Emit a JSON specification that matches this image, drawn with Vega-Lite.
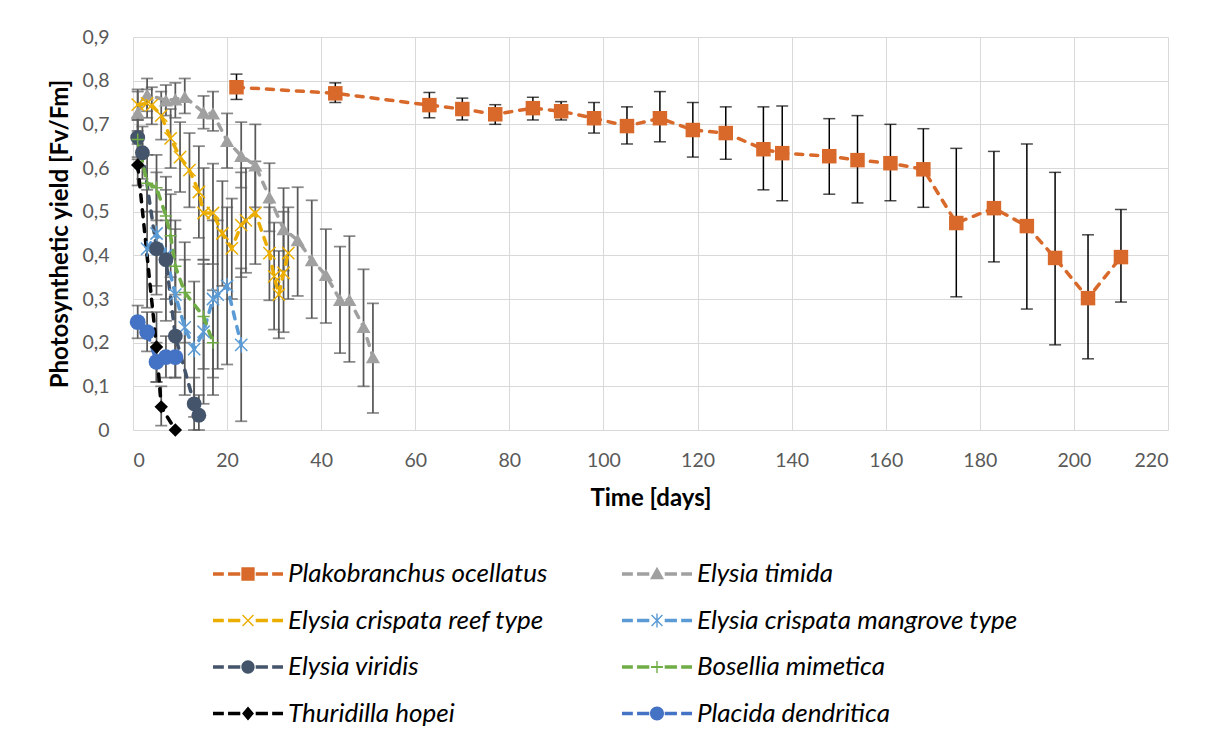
{
  "$schema": "https://vega.github.io/schema/vega-lite/v6.json",
  "width": 1035,
  "height": 393,
  "autosize": {"type": "none"},
  "padding": {"left": 133, "top": 37, "right": 44, "bottom": 319},
  "background": "white",
  "config": {
    "view": {"stroke": null},
    "axis": {
      "labelFont": "Lato", "titleFont": "Lato", "labelFontSize": 19.5, "labelColor": "#595959",
      "titleFontSize": 24, "titleFontWeight": "bold", "titleColor": "#000000",
      "gridColor": "#d9d9d9", "gridWidth": 1, "ticks": false, "domain": false
    }
  },
  "data": {
    "values": [
      {"species": "Plakobranchus ocellatus", "day": 22, "y": 0.785, "lo": 0.757, "hi": 0.815},
      {"species": "Plakobranchus ocellatus", "day": 43, "y": 0.771, "lo": 0.75, "hi": 0.795},
      {"species": "Plakobranchus ocellatus", "day": 63, "y": 0.744, "lo": 0.715, "hi": 0.773},
      {"species": "Plakobranchus ocellatus", "day": 70, "y": 0.735, "lo": 0.71, "hi": 0.76},
      {"species": "Plakobranchus ocellatus", "day": 77, "y": 0.723, "lo": 0.70, "hi": 0.745},
      {"species": "Plakobranchus ocellatus", "day": 85, "y": 0.737, "lo": 0.71, "hi": 0.762},
      {"species": "Plakobranchus ocellatus", "day": 91, "y": 0.73, "lo": 0.71, "hi": 0.752},
      {"species": "Plakobranchus ocellatus", "day": 98, "y": 0.714, "lo": 0.68, "hi": 0.75},
      {"species": "Plakobranchus ocellatus", "day": 105, "y": 0.696, "lo": 0.655, "hi": 0.74},
      {"species": "Plakobranchus ocellatus", "day": 112, "y": 0.714, "lo": 0.66, "hi": 0.775},
      {"species": "Plakobranchus ocellatus", "day": 119, "y": 0.687, "lo": 0.625, "hi": 0.75},
      {"species": "Plakobranchus ocellatus", "day": 126, "y": 0.68, "lo": 0.62, "hi": 0.74},
      {"species": "Plakobranchus ocellatus", "day": 134, "y": 0.643, "lo": 0.55, "hi": 0.74},
      {"species": "Plakobranchus ocellatus", "day": 138, "y": 0.634, "lo": 0.525, "hi": 0.742},
      {"species": "Plakobranchus ocellatus", "day": 148, "y": 0.627, "lo": 0.54, "hi": 0.713},
      {"species": "Plakobranchus ocellatus", "day": 154, "y": 0.618, "lo": 0.52, "hi": 0.72},
      {"species": "Plakobranchus ocellatus", "day": 161, "y": 0.611, "lo": 0.525, "hi": 0.70},
      {"species": "Plakobranchus ocellatus", "day": 168, "y": 0.597, "lo": 0.51, "hi": 0.69},
      {"species": "Plakobranchus ocellatus", "day": 175, "y": 0.474, "lo": 0.305, "hi": 0.645},
      {"species": "Plakobranchus ocellatus", "day": 183, "y": 0.508, "lo": 0.385, "hi": 0.638},
      {"species": "Plakobranchus ocellatus", "day": 190, "y": 0.467, "lo": 0.277, "hi": 0.655},
      {"species": "Plakobranchus ocellatus", "day": 196, "y": 0.394, "lo": 0.195, "hi": 0.59},
      {"species": "Plakobranchus ocellatus", "day": 203, "y": 0.302, "lo": 0.163, "hi": 0.447},
      {"species": "Plakobranchus ocellatus", "day": 210, "y": 0.396, "lo": 0.293, "hi": 0.505},

      {"species": "Elysia timida", "day": 1, "y": 0.727, "lo": 0.685, "hi": 0.775},
      {"species": "Elysia timida", "day": 3, "y": 0.768, "lo": 0.73, "hi": 0.805},
      {"species": "Elysia timida", "day": 7, "y": 0.755, "lo": 0.72, "hi": 0.79},
      {"species": "Elysia timida", "day": 9, "y": 0.757, "lo": 0.715, "hi": 0.795},
      {"species": "Elysia timida", "day": 11, "y": 0.763, "lo": 0.725, "hi": 0.805},
      {"species": "Elysia timida", "day": 15, "y": 0.727, "lo": 0.69, "hi": 0.765},
      {"species": "Elysia timida", "day": 17, "y": 0.725, "lo": 0.685, "hi": 0.775},
      {"species": "Elysia timida", "day": 20, "y": 0.662, "lo": 0.60, "hi": 0.725},
      {"species": "Elysia timida", "day": 23, "y": 0.628, "lo": 0.555, "hi": 0.705},
      {"species": "Elysia timida", "day": 26, "y": 0.606, "lo": 0.51, "hi": 0.70},
      {"species": "Elysia timida", "day": 29, "y": 0.533, "lo": 0.455, "hi": 0.611},
      {"species": "Elysia timida", "day": 32, "y": 0.46, "lo": 0.365, "hi": 0.554},
      {"species": "Elysia timida", "day": 35, "y": 0.435, "lo": 0.307, "hi": 0.556},
      {"species": "Elysia timida", "day": 38, "y": 0.389, "lo": 0.256, "hi": 0.526},
      {"species": "Elysia timida", "day": 41, "y": 0.355, "lo": 0.245, "hi": 0.46},
      {"species": "Elysia timida", "day": 44, "y": 0.298, "lo": 0.176, "hi": 0.42},
      {"species": "Elysia timida", "day": 46, "y": 0.298, "lo": 0.156, "hi": 0.444},
      {"species": "Elysia timida", "day": 49, "y": 0.236, "lo": 0.10, "hi": 0.368},
      {"species": "Elysia timida", "day": 51, "y": 0.167, "lo": 0.039, "hi": 0.29},

      {"species": "Elysia crispata reef type", "day": 1, "y": 0.745, "lo": 0.71, "hi": 0.78},
      {"species": "Elysia crispata reef type", "day": 3, "y": 0.748, "lo": 0.715, "hi": 0.78},
      {"species": "Elysia crispata reef type", "day": 4, "y": 0.744, "lo": 0.70, "hi": 0.785},
      {"species": "Elysia crispata reef type", "day": 6, "y": 0.72, "lo": 0.665, "hi": 0.775},
      {"species": "Elysia crispata reef type", "day": 8, "y": 0.668, "lo": 0.60, "hi": 0.735},
      {"species": "Elysia crispata reef type", "day": 10, "y": 0.625, "lo": 0.545, "hi": 0.705},
      {"species": "Elysia crispata reef type", "day": 12, "y": 0.595, "lo": 0.51, "hi": 0.68},
      {"species": "Elysia crispata reef type", "day": 14, "y": 0.545, "lo": 0.44, "hi": 0.65},
      {"species": "Elysia crispata reef type", "day": 15, "y": 0.497, "lo": 0.39, "hi": 0.60},
      {"species": "Elysia crispata reef type", "day": 17, "y": 0.497, "lo": 0.38, "hi": 0.61},
      {"species": "Elysia crispata reef type", "day": 19, "y": 0.45, "lo": 0.33, "hi": 0.57},
      {"species": "Elysia crispata reef type", "day": 21, "y": 0.416, "lo": 0.30, "hi": 0.53},
      {"species": "Elysia crispata reef type", "day": 23, "y": 0.469, "lo": 0.35, "hi": 0.59},
      {"species": "Elysia crispata reef type", "day": 24, "y": 0.48, "lo": 0.36, "hi": 0.60},
      {"species": "Elysia crispata reef type", "day": 26, "y": 0.497, "lo": 0.38, "hi": 0.615},
      {"species": "Elysia crispata reef type", "day": 29, "y": 0.405, "lo": 0.297, "hi": 0.51},
      {"species": "Elysia crispata reef type", "day": 30, "y": 0.352, "lo": 0.23, "hi": 0.475},
      {"species": "Elysia crispata reef type", "day": 31, "y": 0.31, "lo": 0.21, "hi": 0.41},
      {"species": "Elysia crispata reef type", "day": 32, "y": 0.36, "lo": 0.224, "hi": 0.50},
      {"species": "Elysia crispata reef type", "day": 33, "y": 0.405, "lo": 0.30, "hi": 0.51},

      {"species": "Elysia crispata mangrove type", "day": 3, "y": 0.415, "lo": 0.28, "hi": 0.55},
      {"species": "Elysia crispata mangrove type", "day": 5, "y": 0.45, "lo": 0.31, "hi": 0.59},
      {"species": "Elysia crispata mangrove type", "day": 7, "y": 0.40, "lo": 0.25, "hi": 0.55},
      {"species": "Elysia crispata mangrove type", "day": 9, "y": 0.31, "lo": 0.16, "hi": 0.46},
      {"species": "Elysia crispata mangrove type", "day": 11, "y": 0.235, "lo": 0.08, "hi": 0.39},
      {"species": "Elysia crispata mangrove type", "day": 13, "y": 0.185, "lo": 0.03, "hi": 0.34},
      {"species": "Elysia crispata mangrove type", "day": 15, "y": 0.225, "lo": 0.06, "hi": 0.39},
      {"species": "Elysia crispata mangrove type", "day": 17, "y": 0.30, "lo": 0.12, "hi": 0.48},
      {"species": "Elysia crispata mangrove type", "day": 18, "y": 0.31, "lo": 0.14, "hi": 0.48},
      {"species": "Elysia crispata mangrove type", "day": 20, "y": 0.33, "lo": 0.15, "hi": 0.51},
      {"species": "Elysia crispata mangrove type", "day": 23, "y": 0.195, "lo": 0.02, "hi": 0.37},

      {"species": "Elysia viridis", "day": 1, "y": 0.67, "lo": 0.625, "hi": 0.715},
      {"species": "Elysia viridis", "day": 2, "y": 0.635, "lo": 0.575, "hi": 0.695},
      {"species": "Elysia viridis", "day": 5, "y": 0.415, "lo": 0.33, "hi": 0.50},
      {"species": "Elysia viridis", "day": 7, "y": 0.39, "lo": 0.30, "hi": 0.48},
      {"species": "Elysia viridis", "day": 9, "y": 0.215, "lo": 0.12, "hi": 0.31},
      {"species": "Elysia viridis", "day": 13, "y": 0.06, "lo": 0.0, "hi": 0.12},
      {"species": "Elysia viridis", "day": 14, "y": 0.034, "lo": 0.0, "hi": 0.08},

      {"species": "Bosellia mimetica", "day": 1, "y": 0.665, "lo": 0.62, "hi": 0.71},
      {"species": "Bosellia mimetica", "day": 3, "y": 0.565, "lo": 0.50, "hi": 0.63},
      {"species": "Bosellia mimetica", "day": 5, "y": 0.555, "lo": 0.48, "hi": 0.63},
      {"species": "Bosellia mimetica", "day": 7, "y": 0.49, "lo": 0.40, "hi": 0.58},
      {"species": "Bosellia mimetica", "day": 8, "y": 0.445, "lo": 0.35, "hi": 0.54},
      {"species": "Bosellia mimetica", "day": 9, "y": 0.375, "lo": 0.27, "hi": 0.48},
      {"species": "Bosellia mimetica", "day": 11, "y": 0.315, "lo": 0.20, "hi": 0.43},
      {"species": "Bosellia mimetica", "day": 15, "y": 0.26, "lo": 0.14, "hi": 0.38},
      {"species": "Bosellia mimetica", "day": 17, "y": 0.20, "lo": 0.08, "hi": 0.32},

      {"species": "Thuridilla hopei", "day": 1, "y": 0.607, "lo": 0.56, "hi": 0.655},
      {"species": "Thuridilla hopei", "day": 5, "y": 0.19, "lo": 0.11, "hi": 0.27},
      {"species": "Thuridilla hopei", "day": 6, "y": 0.053, "lo": 0.01, "hi": 0.10},
      {"species": "Thuridilla hopei", "day": 9, "y": 0.0, "lo": null, "hi": null},

      {"species": "Placida dendritica", "day": 1, "y": 0.247, "lo": 0.21, "hi": 0.285},
      {"species": "Placida dendritica", "day": 3, "y": 0.224, "lo": 0.18, "hi": 0.27},
      {"species": "Placida dendritica", "day": 5, "y": 0.156, "lo": 0.11, "hi": 0.20},
      {"species": "Placida dendritica", "day": 7, "y": 0.167, "lo": 0.12, "hi": 0.215},
      {"species": "Placida dendritica", "day": 9, "y": 0.167, "lo": 0.12, "hi": 0.215}
    ]
  },
  "layer": [
    {
      "transform": [{"filter": "datum.lo != null && datum.species !== 'Plakobranchus ocellatus'"}],
      "mark": {"type": "errorbar", "color": "#595959", "thickness": 1.75, "ticks": {"size": 12}},
      "encoding": {
        "x": {"field": "day", "type": "quantitative", "scale": {"domain": [0, 220], "nice": false}, "title": "Time [days]"},
        "y": {"field": "lo", "type": "quantitative", "scale": {"domain": [0, 0.9], "nice": false}, "title": "Photosynthetic yield [Fv/Fm]"},
        "y2": {"field": "hi"}
      }
    },
    {
      "mark": {"type": "line", "strokeDash": [7, 8], "strokeWidth": 3.5, "strokeCap": "round"},
      "encoding": {
        "x": {"field": "day", "type": "quantitative", "scale": {"domain": [0, 220], "nice": false}, "title": "Time [days]",
          "axis": {"values": [0, 20, 40, 60, 80, 100, 120, 140, 160, 180, 200, 220], "labelPadding": 21, "titlePadding": 17}},
        "y": {"field": "y", "type": "quantitative", "scale": {"domain": [0, 0.9], "nice": false}, "title": "Photosynthetic yield [Fv/Fm]",
          "axis": {"values": [0, 0.1, 0.2, 0.3, 0.4, 0.5, 0.6, 0.7, 0.8, 0.9], "labelPadding": 24, "titlePadding": 9,
            "labelExpr": "datum.value == 0 ? '0' : replace(format(datum.value, '.1f'), '.', ',')"}},
        "color": {"field": "species", "type": "nominal", "legend": null,
          "scale": {
            "domain": ["Plakobranchus ocellatus", "Elysia timida", "Elysia crispata reef type", "Elysia crispata mangrove type", "Elysia viridis", "Bosellia mimetica", "Thuridilla hopei", "Placida dendritica", "(none)"],
            "range": ["#D8692A", "#A0A0A0", "#EBAE00", "#5B9BD5", "#44546A", "#70AD47", "#000000", "#4472C4", "#888888"]
          }}
      }
    },
    {
      "transform": [{"filter": "datum.lo != null && datum.species === 'Plakobranchus ocellatus'"}],
      "mark": {"type": "errorbar", "color": "#000000", "thickness": 1.5, "ticks": {"size": 12}},
      "encoding": {
        "x": {"field": "day", "type": "quantitative", "scale": {"domain": [0, 220], "nice": false}, "title": "Time [days]"},
        "y": {"field": "lo", "type": "quantitative", "scale": {"domain": [0, 0.9], "nice": false}, "title": "Photosynthetic yield [Fv/Fm]"},
        "y2": {"field": "hi"}
      }
    },
    {
      "transform": [{"filter": "datum.species === 'Plakobranchus ocellatus'"}],
      "mark": {"type": "point", "shape": "square", "filled": true, "size": 210, "opacity": 1},
      "encoding": {
        "x": {"field": "day", "type": "quantitative", "title": "Time [days]"},
        "y": {"field": "y", "type": "quantitative", "title": "Photosynthetic yield [Fv/Fm]"},
        "color": {"field": "species", "type": "nominal", "legend": null}
      }
    },
    {
      "transform": [{"filter": "datum.species === 'Elysia timida'"}],
      "mark": {"type": "point", "shape": "triangle-up", "filled": true, "size": 200, "opacity": 1},
      "encoding": {
        "x": {"field": "day", "type": "quantitative", "title": "Time [days]"},
        "y": {"field": "y", "type": "quantitative", "title": "Photosynthetic yield [Fv/Fm]"},
        "color": {"field": "species", "type": "nominal", "legend": null}
      }
    },
    {
      "transform": [{"filter": "datum.species === 'Elysia crispata reef type'"}],
      "mark": {"type": "point", "shape": "M-1,-1L1,1M-1,1L1,-1", "filled": false, "size": 150, "strokeWidth": 1.5, "opacity": 1},
      "encoding": {
        "x": {"field": "day", "type": "quantitative", "title": "Time [days]"},
        "y": {"field": "y", "type": "quantitative", "title": "Photosynthetic yield [Fv/Fm]"},
        "color": {"field": "species", "type": "nominal", "legend": null}
      }
    },
    {
      "transform": [{"filter": "datum.species === 'Elysia crispata mangrove type'"}],
      "mark": {"type": "point", "shape": "M-1,-1L1,1M-1,1L1,-1M0,-1.3L0,1.3", "filled": false, "size": 150, "strokeWidth": 1.5, "opacity": 1},
      "encoding": {
        "x": {"field": "day", "type": "quantitative", "title": "Time [days]"},
        "y": {"field": "y", "type": "quantitative", "title": "Photosynthetic yield [Fv/Fm]"},
        "color": {"field": "species", "type": "nominal", "legend": null}
      }
    },
    {
      "transform": [{"filter": "datum.species === 'Elysia viridis'"}],
      "mark": {"type": "point", "shape": "circle", "filled": true, "size": 220, "opacity": 1},
      "encoding": {
        "x": {"field": "day", "type": "quantitative", "title": "Time [days]"},
        "y": {"field": "y", "type": "quantitative", "title": "Photosynthetic yield [Fv/Fm]"},
        "color": {"field": "species", "type": "nominal", "legend": null}
      }
    },
    {
      "transform": [{"filter": "datum.species === 'Bosellia mimetica'"}],
      "mark": {"type": "point", "shape": "M-1,0L1,0M0,-1L0,1", "filled": false, "size": 150, "strokeWidth": 1.5, "opacity": 1},
      "encoding": {
        "x": {"field": "day", "type": "quantitative", "title": "Time [days]"},
        "y": {"field": "y", "type": "quantitative", "title": "Photosynthetic yield [Fv/Fm]"},
        "color": {"field": "species", "type": "nominal", "legend": null}
      }
    },
    {
      "transform": [{"filter": "datum.species === 'Thuridilla hopei'"}],
      "mark": {"type": "point", "shape": "diamond", "filled": true, "size": 180, "opacity": 1},
      "encoding": {
        "x": {"field": "day", "type": "quantitative", "title": "Time [days]"},
        "y": {"field": "y", "type": "quantitative", "title": "Photosynthetic yield [Fv/Fm]"},
        "color": {"field": "species", "type": "nominal", "legend": null}
      }
    },
    {
      "transform": [{"filter": "datum.species === 'Placida dendritica'"}],
      "mark": {"type": "point", "shape": "circle", "filled": true, "size": 250, "opacity": 1},
      "encoding": {
        "x": {"field": "day", "type": "quantitative", "title": "Time [days]"},
        "y": {"field": "y", "type": "quantitative", "title": "Photosynthetic yield [Fv/Fm]"},
        "color": {"field": "species", "type": "nominal", "legend": null}
      }
    },
    {
      "mark": {"type": "point", "filled": true, "opacity": 0, "size": 1},
      "encoding": {
        "x": {"field": "day", "type": "quantitative", "title": "Time [days]"},
        "y": {"field": "y", "type": "quantitative", "title": "Photosynthetic yield [Fv/Fm]"},
        "fill": {"field": "species", "type": "nominal",
          "scale": {
            "domain": ["Plakobranchus ocellatus", "Elysia timida", "Elysia crispata reef type", "Elysia crispata mangrove type", "Elysia viridis", "Bosellia mimetica", "Thuridilla hopei", "Placida dendritica"],
            "range": ["#D8692A", "#A0A0A0", "#EBAE00", "#5B9BD5", "#44546A", "#70AD47", "#000000", "#4472C4"]
          },
          "legend": {"orient": "none", "legendX": 80, "legendY": 522, "columns": 2, "direction": "horizontal", "title": null, "padding": 0,
            "labelFont": "Lato", "labelFontStyle": "italic", "labelFontSize": 26, "labelColor": "#000000", "labelLimit": 0,
            "symbolSize": 4900, "symbolStrokeWidth": 0, "symbolOpacity": 1, "labelOffset": 5, "clipHeight": 30,
            "rowPadding": 16.5, "columnPadding": 74}},
        "shape": {"field": "species", "type": "nominal",
          "scale": {
            "domain": ["Plakobranchus ocellatus", "Elysia timida", "Elysia crispata reef type", "Elysia crispata mangrove type", "Elysia viridis", "Bosellia mimetica", "Thuridilla hopei", "Placida dendritica"],
            "range": [
              "M-1,-0.05H-0.69V0.05H-1Z M-0.57,-0.05H-0.22V0.05H-0.57Z M0.22,-0.05H0.57V0.05H0.22Z M0.69,-0.05H1V0.05H0.69Z M-0.19,-0.19H0.19V0.19H-0.19Z",
              "M-1,-0.05H-0.69V0.05H-1Z M-0.57,-0.05H-0.22V0.05H-0.57Z M0.22,-0.05H0.57V0.05H0.22Z M0.69,-0.05H1V0.05H0.69Z M0,-0.21L0.2,0.15H-0.2Z",
              "M-1,-0.05H-0.69V0.05H-1Z M-0.57,-0.05H-0.22V0.05H-0.57Z M0.22,-0.05H0.57V0.05H0.22Z M0.69,-0.05H1V0.05H0.69Z M-0.17,-0.14L-0.14,-0.17L0.17,0.14L0.14,0.17Z M0.14,-0.17L0.17,-0.14L-0.14,0.17L-0.17,0.14Z",
              "M-1,-0.05H-0.69V0.05H-1Z M-0.57,-0.05H-0.22V0.05H-0.57Z M0.22,-0.05H0.57V0.05H0.22Z M0.69,-0.05H1V0.05H0.69Z M-0.17,-0.14L-0.14,-0.17L0.17,0.14L0.14,0.17Z M0.14,-0.17L0.17,-0.14L-0.14,0.17L-0.17,0.14Z M-0.02,-0.2H0.02V0.2H-0.02Z",
              "M-1,-0.05H-0.69V0.05H-1Z M-0.57,-0.05H-0.22V0.05H-0.57Z M0.22,-0.05H0.57V0.05H0.22Z M0.69,-0.05H1V0.05H0.69Z M-0.19,0A0.19,0.19 0 1,0 0.19,0A0.19,0.19 0 1,0 -0.19,0Z",
              "M-1,-0.05H-0.69V0.05H-1Z M-0.57,-0.05H-0.22V0.05H-0.57Z M0.22,-0.05H0.57V0.05H0.22Z M0.69,-0.05H1V0.05H0.69Z M-0.02,-0.17H0.02V0.17H-0.02Z M-0.17,-0.03H0.17V0.03H-0.17Z",
              "M-1,-0.05H-0.69V0.05H-1Z M-0.57,-0.05H-0.22V0.05H-0.57Z M0.22,-0.05H0.57V0.05H0.22Z M0.69,-0.05H1V0.05H0.69Z M0,-0.2L0.17,0L0,0.2L-0.17,0Z",
              "M-1,-0.05H-0.69V0.05H-1Z M-0.57,-0.05H-0.22V0.05H-0.57Z M0.22,-0.05H0.57V0.05H0.22Z M0.69,-0.05H1V0.05H0.69Z M-0.2,0A0.2,0.2 0 1,0 0.2,0A0.2,0.2 0 1,0 -0.2,0Z"
            ]
          },
          "legend": {"orient": "none", "legendX": 80, "legendY": 522, "columns": 2, "direction": "horizontal", "title": null, "padding": 0,
            "labelFont": "Lato", "labelFontStyle": "italic", "labelFontSize": 26, "labelColor": "#000000", "labelLimit": 0,
            "symbolSize": 4900, "symbolStrokeWidth": 0, "symbolOpacity": 1, "labelOffset": 5, "clipHeight": 30,
            "rowPadding": 16.5, "columnPadding": 74}}
      }
    }
  ]
}
